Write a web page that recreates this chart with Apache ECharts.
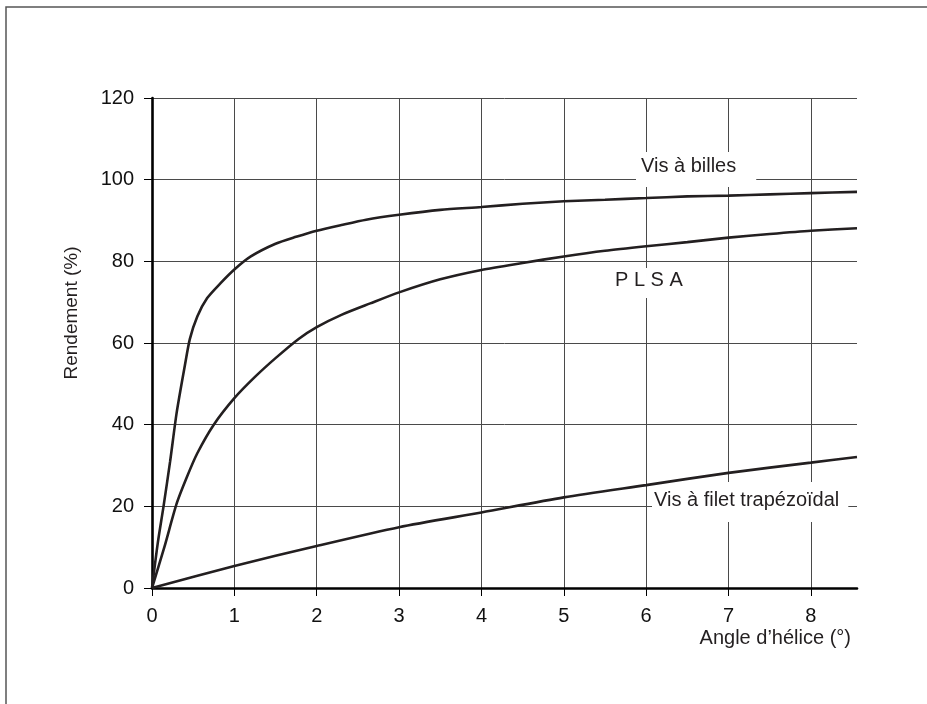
<!DOCTYPE html>
<html>
<head>
<meta charset="utf-8">
<script src="https://cdn.jsdelivr.net/npm/echarts@6/dist/echarts.min.js"></script>
<style>
  html, body { margin: 0; padding: 0; background: #fff; }
  #chart { width: 927px; height: 704px; }
</style>
</head>
<body>
<div id="chart"></div>
<script>
// valeurs
const xTicks = [0, 1, 2, 3, 4, 5, 6, 7, 8];
const yTicks = [0, 20, 40, 60, 80, 100, 120];

const billesX = [0, 0.07, 0.14, 0.22, 0.30, 0.40, 0.46, 0.55, 0.67, 0.83, 1.0, 1.2, 1.5, 1.75, 2.0, 2.3, 2.6, 3.0, 3.5, 4.0, 4.5, 5.0, 5.5, 6.0, 6.5, 7.0, 7.5, 8.0, 8.56];
const billesY = [0, 11, 20, 31, 43, 54.6, 61, 66.5, 71, 74.6, 78, 81.2, 84.3, 86, 87.5, 88.9, 90.2, 91.4, 92.6, 93.3, 94.1, 94.7, 95.1, 95.5, 95.9, 96.1, 96.4, 96.7, 97.0];

const plsaX = [0, 0.15, 0.30, 0.42, 0.55, 0.75, 1.0, 1.25, 1.5, 1.78, 2.0, 2.3, 2.65, 3.0, 3.5, 4.0, 4.5, 5.0, 5.5, 6.0, 6.5, 7.0, 7.5, 8.0, 8.56];
const plsaY = [0, 10, 20.7, 27, 33, 40, 46.5, 51.7, 56.3, 61, 63.9, 66.9, 69.7, 72.4, 75.6, 77.9, 79.6, 81.2, 82.6, 83.7, 84.7, 85.8, 86.7, 87.5, 88.1];

const trapX = [0, 1, 2, 3, 4, 5, 6, 7, 8, 8.56];
const trapY = [0, 5.4, 10.3, 14.9, 18.5, 22.2, 25.2, 28.2, 30.7, 32.1];

const font = '"Liberation Sans", Arial, sans-serif';

let pairs = function (xs, ys) {
    return xs.map((x, i) => [x, ys[i]]);
};

let myChart = echarts.init(document.getElementById('chart'));

let curve = function (name, xs, ys) {
    return {
        name: name,
        type: 'line',
        data: pairs(xs, ys),
        smooth: 0.25,
        showSymbol: false,
        lineStyle: {color: '#231f20', width: 2.6},
        z: 5
    };
};

// étiquettes sur fond blanc : elles coupent la grille, pas les courbes
let labelBox = function (text, x, y, padding) {
    return {
        type: 'text',
        left: x,
        top: y,
        z: 1,
        style: {
            text: text,
            font: '20px ' + font,
            fill: '#231f20',
            backgroundColor: '#fff',
            padding: padding
        }
    };
};

let option = {
    backgroundColor: '#fff',
    animation: false,
    grid: {left: 152, right: 70, top: 98, bottom: 116},
    xAxis: {
        type: 'value',
        min: 0,
        max: 8.56,
        axisLine: {lineStyle: {color: '#000', width: 2.6}},
        axisTick: {show: true, length: 8, customValues: xTicks, lineStyle: {color: '#000', width: 1}},
        axisLabel: {customValues: xTicks, margin: 18, fontSize: 20, fontFamily: font, color: '#111'},
        splitLine: {show: true, lineStyle: {color: '#4a4a4a', width: 1}}
    },
    yAxis: {
        type: 'value',
        min: 0,
        max: 120,
        interval: 20,
        axisLine: {show: true, lineStyle: {color: '#000', width: 2.6}},
        axisTick: {show: true, length: 8, lineStyle: {color: '#000', width: 1}},
        axisLabel: {margin: 18, fontSize: 20, fontFamily: font, color: '#111'},
        splitLine: {show: true, lineStyle: {color: '#4a4a4a', width: 1}}
    },
    series: [
        curve('Vis à billes', billesX, billesY),
        curve('PLSA', plsaX, plsaY),
        curve('Vis à filet trapézoïdal', trapX, trapY)
    ],
    graphic: [
        {
            type: 'rect',
            shape: {x: 6, y: 7, width: 1000, height: 1000},
            style: {fill: 'none', stroke: '#555', lineWidth: 1.5},
            z: 30
        },
        {
            type: 'text',
            x: 72,
            y: 313,
            rotation: Math.PI / 2,
            style: {
                text: 'Rendement (%)',
                font: '19px ' + font,
                fill: '#231f20',
                align: 'center',
                verticalAlign: 'middle'
            }
        },
        {
            type: 'text',
            x: 851,
            y: 638,
            style: {
                text: 'Angle d\u2019hélice (°)',
                font: '20px ' + font,
                fill: '#231f20',
                align: 'right',
                verticalAlign: 'middle'
            }
        },
        labelBox('Vis à billes', 636, 152, [4, 20, 11, 5]),
        labelBox('P L S A', 610, 268, [2, 5, 8, 5]),
        labelBox('Vis à filet trapézoïdal', 652, 482, [8, 9, 12, 2])
    ]
};

myChart.setOption(option);
</script>
</body>
</html>
